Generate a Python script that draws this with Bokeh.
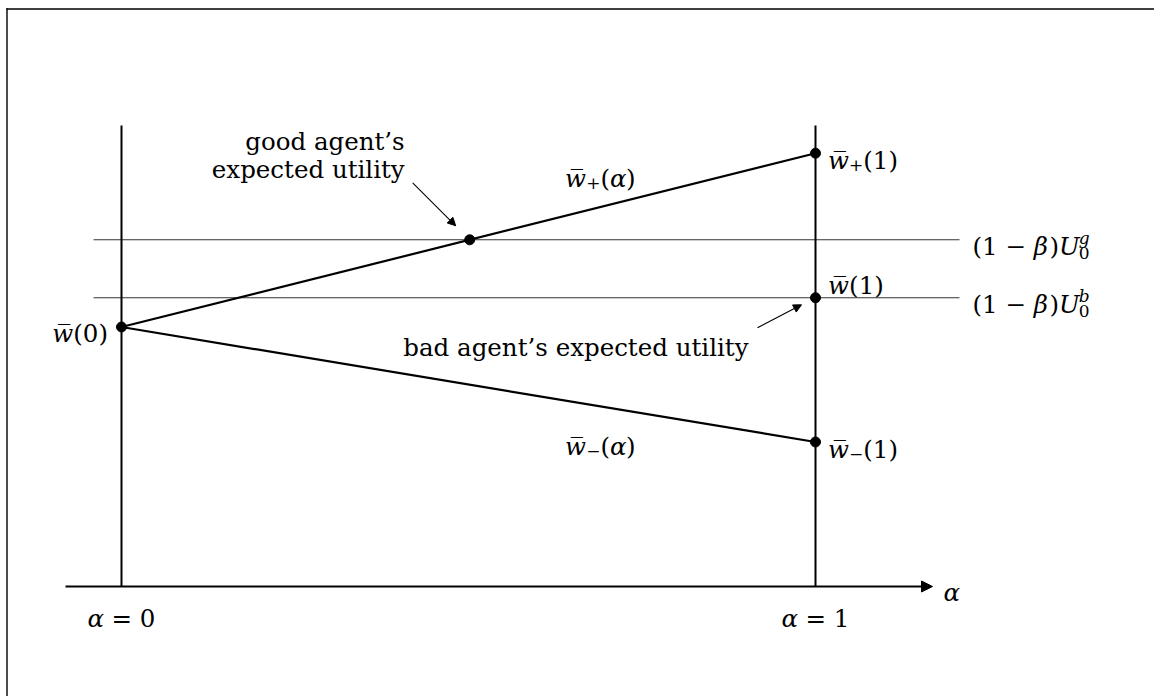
from bokeh.plotting import figure
from bokeh.models import Range1d, Arrow, NormalHead
from bokeh.core.properties import value
from bokeh.embed import file_html
from bokeh.resources import INLINE

# ---------------- data ----------------
alpha = [0.0, 1.0]                 # α = 0 and α = 1
w_plus = [2.595, 4.333]            # w̄+(0)=w̄(0), w̄+(1)
w_minus = [2.595, 1.445]           # w̄−(0)=w̄(0), w̄−(1)
w_bar = [2.595, 2.887]             # w̄(0), w̄(1)
outside = [3.467, 2.887]           # (1−β)U0^g, (1−β)U0^b
outside_tags = ["g", "b"]
tick_values = [0, 1]
tick_labels = ["0", "1"]

# ---------------- layout ----------------
W, H = 1154, 696
PX_X = 694.0      # pixels per unit of α
PX_Y = 100.0      # pixels per unit of value
X0_PX = 121.0     # canvas x of α = 0
Y0_PX = 586.0     # canvas y (from top) of value 0
x_range = Range1d(-X0_PX / PX_X, (W - X0_PX) / PX_X)
y_range = Range1d((Y0_PX - H) / PX_Y, Y0_PX / PX_Y)

AX_START, AX_END = -0.0807, 1.1686     # horizontal α axis
HL_START, HL_END = -0.0403, 1.2075     # thin horizontal lines
V_TOP = 4.61                           # top of the vertical lines

FONT = "DejaVu Serif"
S = 24.5      # main font size px
SS = 17.0     # script size px
EM = {"w\u0305": 0.86, "(": 0.39, ")": 0.39, " ": 0.318, "\u00a0": 0.318,
      "=": 0.838, "\u2212": 0.838, "+": 0.838, "\u03b1": 0.66,
      "\u03b2": 0.64, "U": 0.81, "g": 0.64, "b": 0.64}
for d in "0123456789":
    EM[d] = 0.636


def text_width(s, size):
    total = 0.0
    i = 0
    while i < len(s):
        if i + 1 < len(s) and s[i + 1] == "\u0305":
            total += EM.get(s[i:i + 2], 0.86)
            i += 2
            continue
        total += EM.get(s[i], 0.6)
        i += 1
    return total * size


p = figure(width=W, height=H, x_range=x_range, y_range=y_range,
           x_axis_type=None, y_axis_type=None, toolbar_location=None,
           output_backend="svg", min_border=0, outline_line_color=None,
           background_fill_color="white", border_fill_color="white")


def math_label(x, y, runs, dx=0.0, dy=0.0, align="left"):
    """runs: (text, italic, small, shift_px, advance)"""
    widths = []
    for t, it, sm, sh, adv in runs:
        widths.append(text_width(t, SS if sm else S) if adv else 0.0)
    total = sum(widths)
    start = {"left": 0.0, "right": -total, "center": -total / 2}[align]
    cur = start
    for (t, it, sm, sh, adv), wdt in zip(runs, widths):
        shown = t.strip()
        lead = text_width(t[:len(t) - len(t.lstrip())], SS if sm else S)
        if shown:
            p.text(x=[x], y=[y], text=[shown], x_offset=dx + cur + lead,
                   y_offset=dy + sh,
                   text_font=value(FONT), text_font_size=f"{SS if sm else S}px",
                   text_font_style="italic" if it else "normal",
                   text_baseline="alphabetic", text_align="left",
                   text_color="black")
        cur += wdt


def plain_label(x, y, t, dx, dy, align):
    p.text(x=[x], y=[y], text=[t], x_offset=dx, y_offset=dy,
           text_font=value(FONT), text_font_size=f"{S}px",
           text_baseline="alphabetic", text_align=align, text_color="black")


WB = "w\u0305"

# frame lines (top and left) of the picture
fx = x_range.start + 6.5 / PX_X
fy = y_range.end - 8.5 / PX_Y
p.segment(x0=[fx - 0.7 / PX_X, fx], y0=[fy, fy + 0.7 / PX_Y],
          x1=[x_range.end, fx], y1=[fy, y_range.start],
          line_color="black", line_width=1.4)

# thin horizontal outside-option lines
p.segment(x0=[HL_START] * len(outside), y0=outside,
          x1=[HL_END] * len(outside), y1=outside,
          line_color="#333333", line_width=1.1)

# vertical lines at α = 0 and α = 1
p.segment(x0=alpha, y0=[0, 0], x1=alpha, y1=[V_TOP, V_TOP],
          line_color="black", line_width=2.0)

# α axis with arrow
p.add_layout(Arrow(x_start=AX_START, y_start=0, x_end=AX_END, y_end=0,
                   line_color="black", line_width=2.2,
                   end=NormalHead(size=11, fill_color="black",
                                  line_color="black", line_width=1)))

# w̄+(α) and w̄−(α)
p.line(alpha, w_plus, line_color="black", line_width=2.2)
p.line(alpha, w_minus, line_color="black", line_width=2.2)

# crossing point of w̄+(α) with (1−β)U0^g
alpha_star = (outside[0] - w_plus[0]) / (w_plus[1] - w_plus[0])

p.scatter(x=[alpha[0], alpha[1], alpha_star, alpha[1], alpha[1]],
          y=[w_bar[0], w_plus[1], outside[0], w_bar[1], w_minus[1]],
          size=10, color="black")


def px_to_data(x, y, dxp, dyp):
    return x + dxp / PX_X, y - dyp / PX_Y


# annotation arrows
gx0, gy0 = px_to_data(alpha_star, outside[0], -57, -57)
gx1, gy1 = px_to_data(alpha_star, outside[0], -14, -14)
p.add_layout(Arrow(x_start=gx0, y_start=gy0, x_end=gx1, y_end=gy1,
                   line_color="black", line_width=1.1,
                   end=NormalHead(size=8, fill_color="black",
                                  line_color="black", line_width=1)))
bx0, by0 = px_to_data(alpha[1], w_bar[1], -58, 30)
bx1, by1 = px_to_data(alpha[1], w_bar[1], -14, 7)
p.add_layout(Arrow(x_start=bx0, y_start=by0, x_end=bx1, y_end=by1,
                   line_color="black", line_width=1.1,
                   end=NormalHead(size=8, fill_color="black",
                                  line_color="black", line_width=1)))

# --- labels ---
math_label(alpha[0], w_bar[0], [(WB, True, False, 0, True),
                                ("(0)", False, False, 0, True)],
           dx=-13.5, dy=6.5, align="right")
math_label(alpha[1], w_plus[1], [(WB, True, False, 0, True),
                                 ("+", False, True, 5, True),
                                 ("(1)", False, False, 0, True)],
           dx=12.5, dy=7)
math_label(alpha[1], w_bar[1], [(WB, True, False, 0, True),
                                ("(1)", False, False, 0, True)],
           dx=12.5, dy=-12.6)
math_label(alpha[1], w_minus[1], [(WB, True, False, 0, True),
                                  ("\u2212", False, True, 5, True),
                                  ("(1)", False, False, 0, True)],
           dx=12.5, dy=7)

A_LAB = 0.69
yp = w_plus[0] + A_LAB * (w_plus[1] - w_plus[0])
ym = w_minus[0] + A_LAB * (w_minus[1] - w_minus[0])
math_label(A_LAB, yp, [(WB, True, False, 0, True),
                       ("+", False, True, 5, True),
                       ("(", False, False, 0, True),
                       ("\u03b1", True, False, 0, True),
                       (")", False, False, 0, True)],
           dy=-28.6, align="center")
math_label(A_LAB, ym, [(WB, True, False, 0, True),
                       ("\u2212", False, True, 5, True),
                       ("(", False, False, 0, True),
                       ("\u03b1", True, False, 0, True),
                       (")", False, False, 0, True)],
           dy=40, align="center")

for val, tag in zip(outside, outside_tags):
    math_label(HL_END, val, [("(1 \u2212 ", False, False, 0, True),
                             ("\u03b2", True, False, 0, True),
                             (")", False, False, 0, True),
                             ("U", True, False, 0, True),
                             (tag, True, True, -9, False),
                             ("0", False, True, 6.7, True)],
               dx=13, dy=6.7)

math_label(AX_END, 0, [("\u03b1", True, False, 0, True)], dx=11, dy=6)

for tv, tl in zip(tick_values, tick_labels):
    math_label(tv, 0, [("\u03b1", True, False, 0, True),
                       (" = " + tl, False, False, 0, True)],
               dy=31.5, align="center")

plain_label(alpha_star, outside[0], "good agent\u2019s", -65, -98, "right")
plain_label(alpha_star, outside[0], "expected utility", -65, -70, "right")
plain_label(alpha[1], w_bar[1], "bad agent\u2019s expected utility", -67, 50, "right")

open("out.html", "w").write(file_html(p, INLINE))
